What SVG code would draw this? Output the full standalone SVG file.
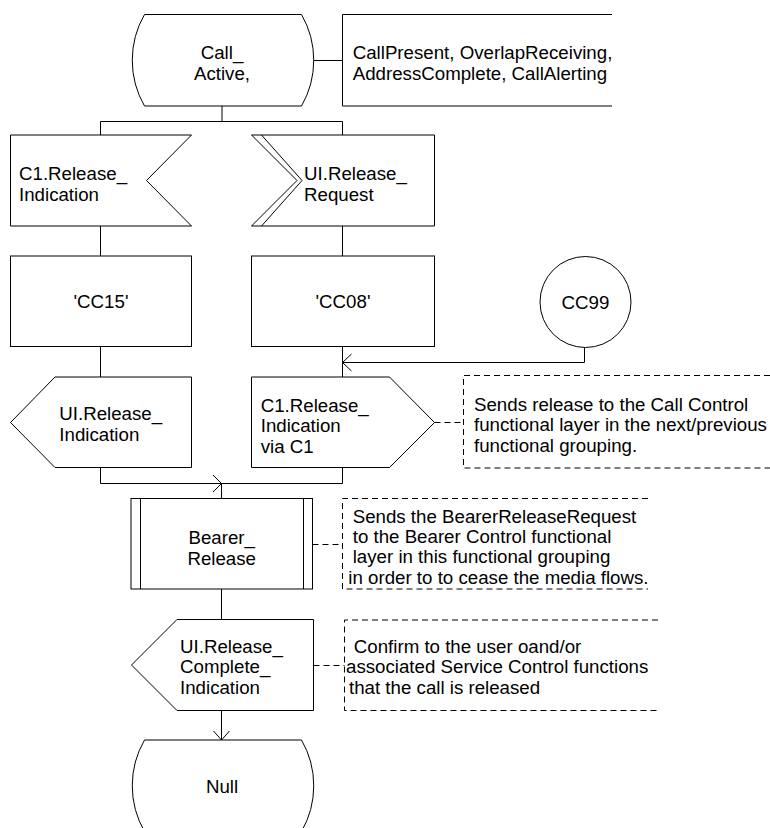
<svg xmlns="http://www.w3.org/2000/svg" width="770" height="828" viewBox="0 0 770 828">
<style>
.s{fill:#fff;stroke:#000;stroke-width:1}
.c{fill:none;stroke:#000;stroke-width:1}
.d{fill:none;stroke:#000;stroke-width:1;stroke-dasharray:6 4}
text{font-family:"Liberation Sans",Arial,sans-serif;font-size:18.7px;fill:#000}
.m{text-anchor:middle}
</style>
<rect width="770" height="828" fill="#fff"/>
<g id="connectors">
<path class="c" d="M314,60.5 H342.5"/>
<path class="c" d="M222,106 V121.5"/>
<path class="c" d="M100.5,135 V121.5 H342.5 V135"/>
<path class="c" d="M100.5,226 V256"/>
<path class="c" d="M342.5,226 V256"/>
<path class="c" d="M100.5,346.5 V377"/>
<path class="c" d="M342.5,346.5 V377"/>
<path class="c" d="M584.5,347.5 V362.5 H342.5"/>
<path class="c" d="M351.5,354 L342.5,362.5 L351.5,371"/>
<path class="c" d="M100.5,467.5 V483.5 H342.5 V467.5"/>
<path class="c" d="M221.5,483.5 V498.5"/>
<path class="c" d="M213,475 L221.5,483.5 L213,492"/>
<path class="c" d="M221.5,589 V619.5"/>
<path class="c" d="M221.5,710.5 V740"/>
<path class="c" d="M213.5,731 L221.5,740 L229.5,731"/>
<path class="d" d="M434.5,422.5 H463.5"/>
<path class="d" d="M312.5,544.5 H342.5"/>
<path class="d" d="M313.5,665.5 H344.5"/>
</g>
<g id="state_call_active">
<path class="s" d="M144.5,14.5 H301.5 A91.6,91.6 0 0 1 301.5,106 H144.5 A91.6,91.6 0 0 1 144.5,14.5 Z"/>
<text class="m" x="222" y="58.5">Call_</text>
<text class="m" x="222" y="79.5">Active,</text>
</g>
<g id="text_extension">
<path class="c" d="M612,14.5 H342.5 V106 H612"/>
<text x="352.7" y="59">CallPresent, OverlapReceiving,</text>
<text x="352.7" y="80">AddressComplete, CallAlerting</text>
</g>
<g id="input_c1_release_indication">
<polygon class="s" points="10.5,135 191.5,135 146.5,180.5 191.5,226 10.5,226"/>
<text x="19" y="180">C1.Release_</text>
<text x="19" y="201">Indication</text>
</g>
<g id="input_ui_release_request">
<path class="s" d="M251.5,135 H434.5 V226 H251.5 L297,180.5 Z"/>
<path class="c" d="M261.5,135 L302,180.5 L261.5,226"/>
<text x="304" y="180">UI.Release_</text>
<text x="304" y="201">Request</text>
</g>
<g id="task_cc15">
<rect class="s" x="10.5" y="256" width="181" height="90.5"/>
<text class="m" x="101" y="308">'CC15'</text>
</g>
<g id="task_cc08">
<rect class="s" x="251.5" y="256" width="183" height="90.5"/>
<text class="m" x="343" y="308">'CC08'</text>
</g>
<g id="connector_cc99">
<circle class="s" cx="585.5" cy="302" r="45.5"/>
<text class="m" x="585.5" y="309">CC99</text>
</g>
<g id="output_ui_release_indication">
<polygon class="s" points="55,377 191.5,377 191.5,467.5 55,467.5 10.5,422.5"/>
<text x="59.3" y="420">UI.Release_</text>
<text x="59.3" y="441">Indication</text>
</g>
<g id="output_c1_release_indication">
<polygon class="s" points="251.5,377 389.5,377 434.5,422.5 389.5,467.5 251.5,467.5"/>
<text x="260.7" y="411.5">C1.Release_</text>
<text x="260.7" y="432">Indication</text>
<text x="260.7" y="452.5">via C1</text>
</g>
<g id="comment_1">
<path class="d" d="M770,375.5 H463.5 V468 H770"/>
<text x="474" y="410.5">Sends release to the Call Control</text>
<text x="474" y="431">functional layer in the next/previous</text>
<text x="474" y="451.5">functional grouping.</text>
</g>
<g id="procedure_bearer_release">
<rect class="s" x="131" y="498.5" width="181.5" height="90.5"/>
<path class="c" d="M140.5,498.5 V589 M303.5,498.5 V589"/>
<text class="m" x="221.7" y="544">Bearer_</text>
<text class="m" x="221.7" y="564.5">Release</text>
</g>
<g id="comment_2">
<path class="d" d="M648,498.5 H342.5 V589 H648"/>
<text x="352.7" y="522.7">Sends the BearerReleaseRequest</text>
<text x="352.7" y="543.3">to the Bearer Control functional</text>
<text x="352.7" y="563.3">layer in this functional grouping</text>
<text x="348.3" y="583.5">in order to to cease the media flows.</text>
</g>
<g id="output_ui_release_complete_indication">
<polygon class="s" points="177,619.5 313.5,619.5 313.5,710.5 177,710.5 131.5,665"/>
<text x="180" y="652.5">UI.Release_</text>
<text x="180" y="673">Complete_</text>
<text x="180" y="693.5">Indication</text>
</g>
<g id="comment_3">
<path class="d" d="M658,620 H344.5 V710.5 H658"/>
<text x="353.8" y="653">Confirm to the user oand/or</text>
<text x="346" y="673.3">associated Service Control functions</text>
<text x="349" y="693.5">that the call is released</text>
</g>
<g id="state_null">
<path class="s" d="M144.5,740 H301.5 A91.6,91.6 0 0 1 301.5,831.5 H144.5 A91.6,91.6 0 0 1 144.5,740 Z"/>
<text class="m" x="222" y="793">Null</text>
</g>
</svg>
